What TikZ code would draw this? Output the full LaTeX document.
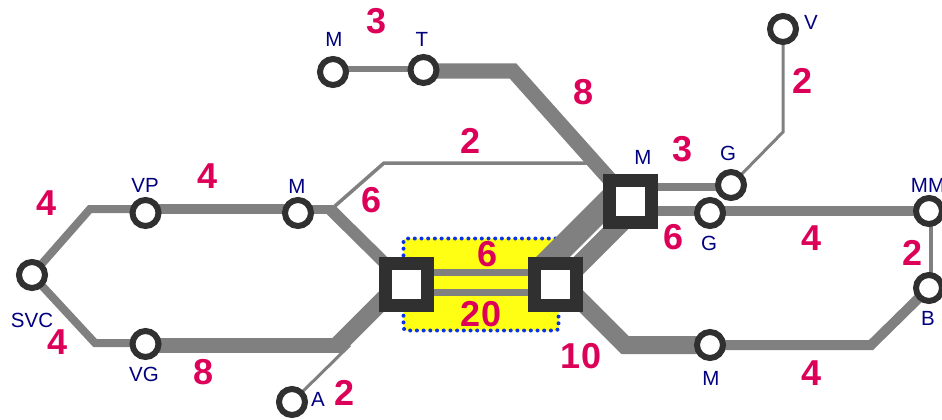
\documentclass[tikz,border=0pt]{standalone}
\usepackage{fontspec}
\setmainfont{Liberation Sans}
\usetikzlibrary{backgrounds}
\pgfdeclarelayer{bgyellow}
\pgfdeclarelayer{lines}
\pgfsetlayers{bgyellow,lines,main}
\definecolor{ringc}{HTML}{303030}
\definecolor{linec}{HTML}{808080}
\definecolor{numc}{HTML}{DC0058}
\definecolor{namec}{HTML}{000080}
\definecolor{bluec}{HTML}{0A32E0}
\definecolor{yel}{HTML}{FFFF14}
\tikzset{
  st/.style={circle,draw=ringc,line width=6pt,fill=white,minimum size=26pt,inner sep=0pt},
  hub/.style={rectangle,draw=ringc,line width=13.5pt,fill=white,minimum size=42pt,inner sep=0pt},
  num/.style={text=numc,font=\fontsize{36}{36}\selectfont\bfseries,inner sep=0pt},
  nm/.style={text=namec,font=\fontsize{20.5}{20.5}\selectfont,inner sep=0pt},
  lk/.style={draw=linec,line join=miter},
  zone/.style={draw=bluec,fill=yel,line width=4pt,dash pattern=on 0pt off 6.7pt,line cap=round,rounded corners=3pt,inner sep=0pt,minimum width=155pt,minimum height=92pt}
}
\begin{document}
\begin{tikzpicture}[x=1pt,y=-1pt]
\useasboundingbox (0,0) rectangle (942,420);
\clip (0,0) rectangle (942,420);
% stations
\node[st] (svc) at (32,275) {};
\node[st] (vp) at (145.5,213) {};
\node[st] (mw) at (298,213) {};
\node[st] (vg) at (145.5,344) {};
\node[st] (aa) at (292,402) {};
\node[st] (mt) at (333,72) {};
\node[st] (tt) at (423.5,70) {};
\node[st] (vv) at (783,29) {};
\node[st] (gu) at (731,185) {};
\node[st] (gl) at (710,213) {};
\node[st] (mm) at (929,211) {};
\node[st] (bb) at (929,288) {};
\node[st] (ms) at (710,345) {};
% hubs
\node[hub] (hl) at (406.5,284.5) {};
\node[hub] (hr) at (555.5,284.5) {};
\node[hub] (ht) at (630.5,201.5) {};
% bends
\coordinate (b1) at (90,209);
\coordinate (b2) at (95,343);
\coordinate (b3) at (334,209);
\coordinate (b3d) at (330,209);
\coordinate (b4) at (343,345);
\coordinate (b4d) at (338,345);
\coordinate (b5) at (384,163);
\coordinate (b6) at (600,163);
\coordinate (b7) at (335,206);
\coordinate (b8) at (513,71);
\coordinate (b9) at (625,345);
\coordinate (b10) at (871,345);
\coordinate (b11) at (783,132);
\coordinate (b12) at (350,345);
\begin{pgfonlayer}{bgyellow}
\node[zone] (zn) at (481,284.5) {};
\end{pgfonlayer}
\begin{pgfonlayer}{lines}
\draw[lk,line width=8pt] (svc.center) -- (b1) -- (vp.center |- b1);
\draw[lk,line width=8pt] (svc.center) -- (b2) -- (vg.center |- b2);
\draw[lk,line width=10pt] (vp.center |- b1) -- (mw.center |- b1);
\draw[lk,line width=9pt] (mw.center |- b1) -- (b3);
\draw[lk,line width=12pt] (b3d) -- (hl.center);
\draw[lk,line width=15pt] (vg.center |- b4) -- (b4);
\draw[lk,line width=18pt] (b4d) -- ([xshift=-4pt,yshift=4pt]hl.center);
\draw[lk,line width=3pt] (aa.center) -- (b12);
\draw[lk,line width=3.5pt] (b7) -- (b5) -- (b6);
\draw[lk,line width=6pt] ([yshift=1pt]tt.center -| mt.center) -- ([yshift=1pt]tt.center);
\draw[lk,line width=15pt] (tt.center |- b8) -- (b8) -- ([xshift=-1pt]ht.center);
\draw[lk,line width=7pt] ([yshift=12.5pt]hl.center) -- ([yshift=12.5pt]hr.center);
\draw[lk,line width=7pt] ([yshift=-7.5pt]hl.center) -- ([yshift=-7.5pt]hr.center);
\draw[lk,line width=24pt] ([xshift=-15pt,yshift=15pt]hr.center) -- ([xshift=-11pt,yshift=11pt]ht.center);
\draw[lk,line width=19pt] ([xshift=2pt,yshift=-2pt]hr.center) -- ([xshift=6pt,yshift=-6pt]ht.center);
\draw[lk,line width=18pt] ([xshift=4.5pt,yshift=4.5pt]hr.center) -- (b9) -- (ms.center |- b9);
\draw[lk,line width=10pt] (ms.center |- b10) -- (b10) -- (bb.center);
\draw[lk,line width=7.5pt] ([yshift=14.5pt]ht.center) -- ([yshift=14.5pt]ht.center -| gu.center);
\draw[lk,line width=10pt] ([yshift=-9.5pt]ht.center) -- ([yshift=-9.5pt]ht.center -| mm.center);
\draw[lk,line width=3pt] (gu.center) -- (b11) -- (vv.center);
\draw[lk,line width=4.5pt] ([xshift=2pt]mm.center) -- ([xshift=2pt]bb.center);
\end{pgfonlayer}
% names
\node[nm] (n1) at (334,39) {M};
\node[nm] (n2) at (422,39) {T};
\node[nm] (n3) at (811,22) {V};
\node[nm] (n4) at (643,157) {M};
\node[nm] (n5) at (728,153) {G};
\node[nm] (n6) at (709,243) {G};
\node[nm] (n7) at (928,185) {MM};
\node[nm] (n8) at (928,318) {B};
\node[nm] (n9) at (711,378) {M};
\node[nm] (n10) at (145,185) {VP};
\node[nm] (n11) at (297,186) {M};
\node[nm] (n12) at (32,320) {SVC};
\node[nm] (n13) at (144,374) {VG};
\node[nm] (n14) at (318,399) {A};
% numbers
\node[num] (v1) at (377,21) {3};
\node[num] (v2) at (584,92) {8};
\node[num] (v3) at (471,141) {2};
\node[num] (v4) at (683,149) {3};
\node[num] (v5) at (802,81) {2};
\node[num] (v6) at (372,200) {6};
\node[num] (v7) at (208,176) {4};
\node[num] (v8) at (47,203) {4};
\node[num] (v9) at (58,342) {4};
\node[num] (v10) at (204,372) {8};
\node[num] (v11) at (345,393) {2};
\node[num] (v12) at (581,356) {10};
\node[num] (v13) at (488,254) {6};
\node[num] (v14) at (481,314) {20};
\node[num] (v15) at (674,237) {6};
\node[num] (v16) at (812,238) {4};
\node[num] (v17) at (912,253) {2};
\node[num] (v18) at (812,373) {4};
\end{tikzpicture}
\end{document}
